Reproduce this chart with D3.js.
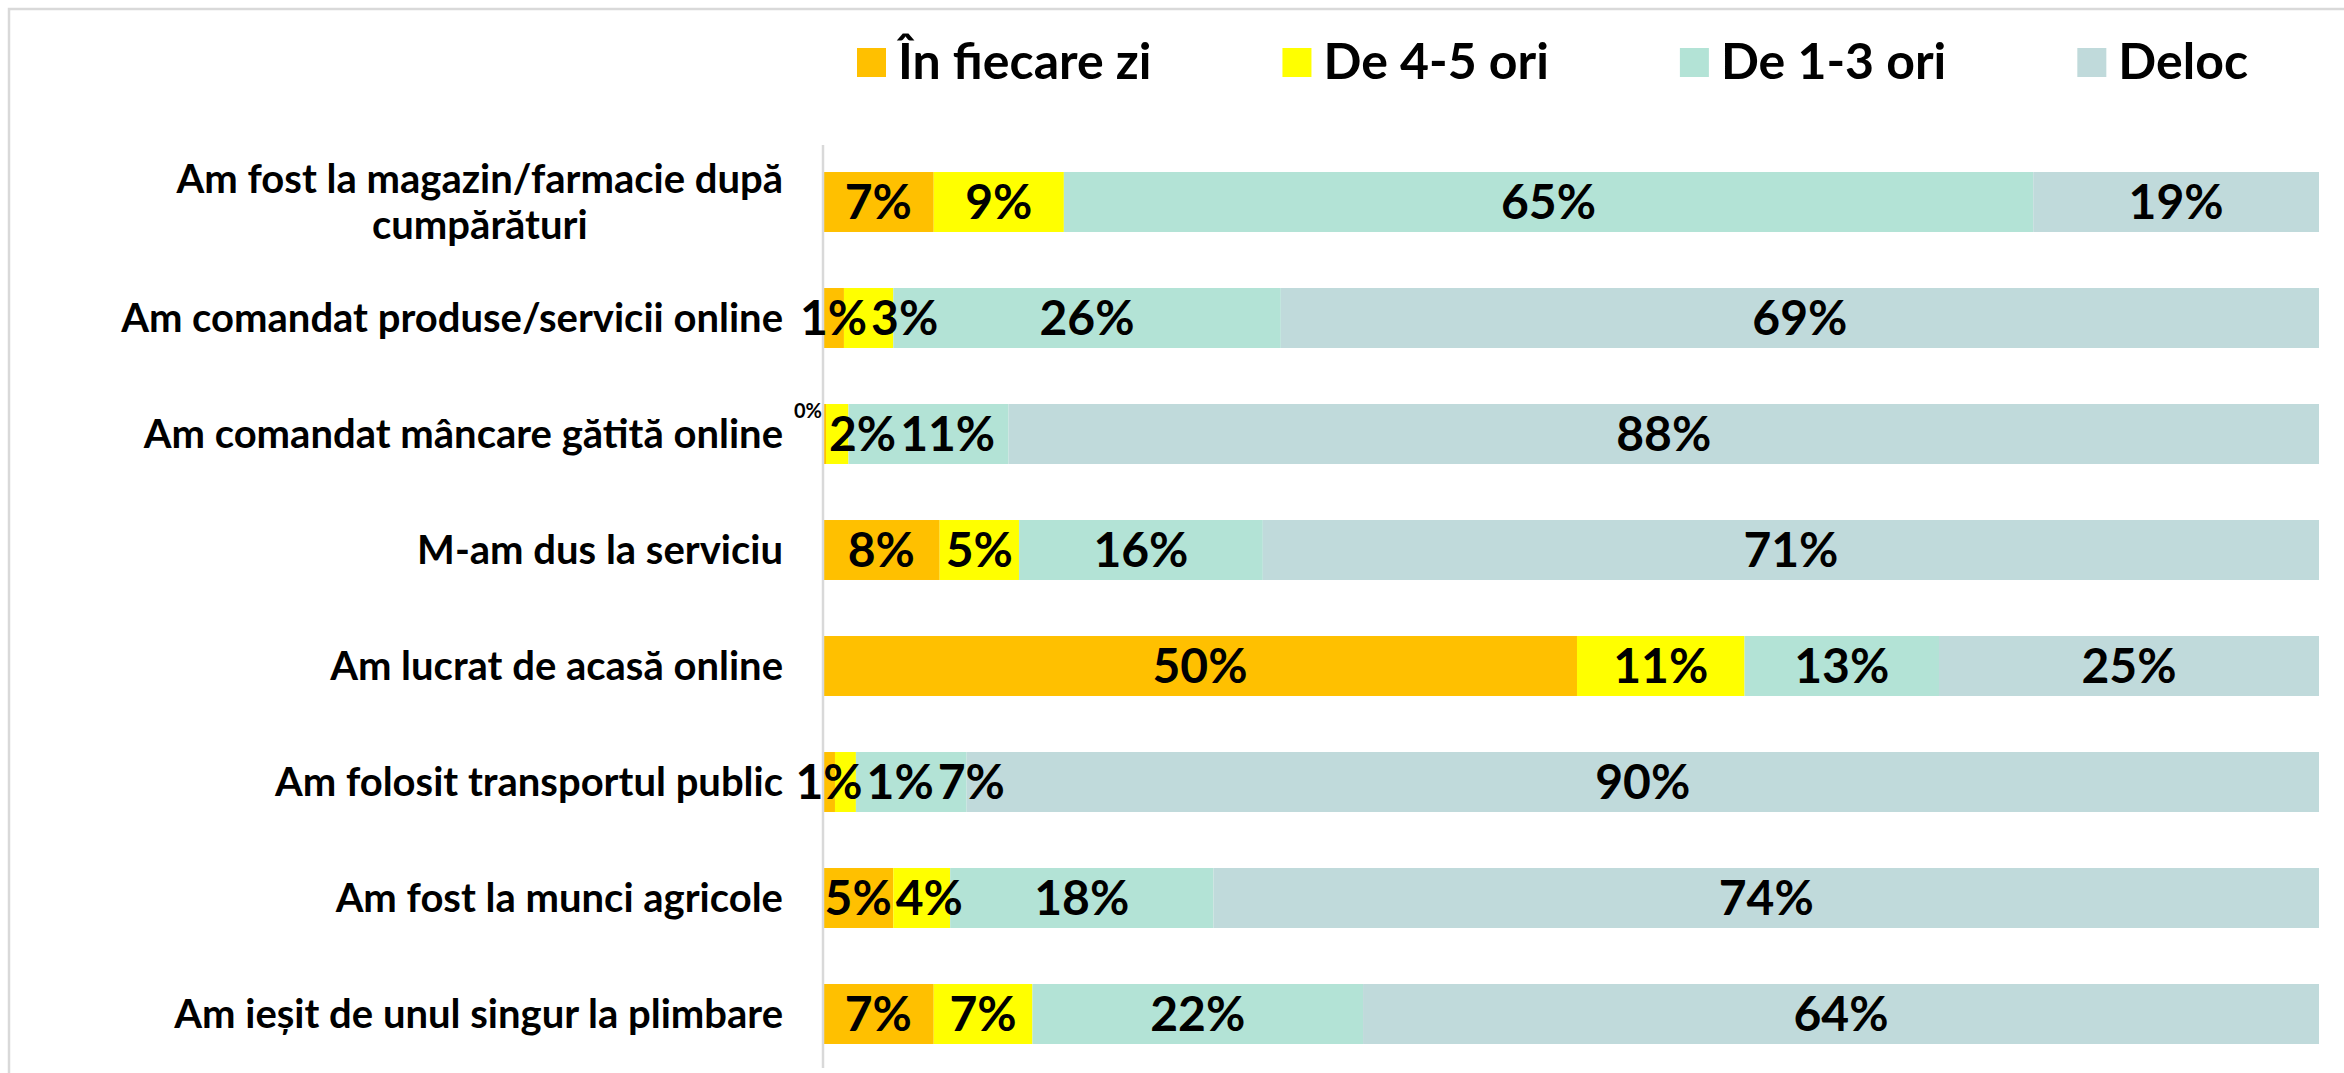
<!DOCTYPE html>
<html>
<head>
<meta charset="utf-8">
<script src="https://cdn.jsdelivr.net/npm/d3@7"></script>
<style>
  body { margin: 0; background: #fff; }
  text { font-family: Lato, "Open Sans", sans-serif; font-weight: 700; fill: #000; }
</style>
</head>
<body>
<div id="chart"></div>
<script>
const categories = [
  'Am fost la magazin/farmacie după cumpărături',
  'Am comandat produse/servicii online',
  'Am comandat mâncare gătită online',
  'M-am dus la serviciu',
  'Am lucrat de acasă online',
  'Am folosit transportul public',
  'Am fost la munci agricole',
  'Am ieșit de unul singur la plimbare'
];
const seriesNames = ['În fiecare zi', 'De 4-5 ori', 'De 1-3 ori', 'Deloc'];
const inFiecareZi = [7.4, 1.4, 0.2, 7.8, 50.4, 0.8, 4.7, 7.4];
const de45Ori = [8.7, 3.3, 1.5, 5.3, 11.2, 1.4, 3.8, 6.6];
const de13Ori = [64.8, 25.9, 10.7, 16.3, 13.0, 7.4, 17.6, 22.1];
const deloc = [19.1, 69.4, 87.6, 70.6, 25.4, 90.4, 73.9, 63.9];
const colors = ['#ffc000', '#ffff00', '#b3e3d6', '#c0dadb'];

const width = 2344;
const height = 1073;

const rows = categories.map((c, i) => ({
  cat: c,
  [seriesNames[0]]: inFiecareZi[i],
  [seriesNames[1]]: de45Ori[i],
  [seriesNames[2]]: de13Ori[i],
  [seriesNames[3]]: deloc[i]
}));
const stacked = d3.stack().keys(seriesNames)(rows);

const x = d3.scaleLinear().domain([0, 100]).range([823, 2319]);
const y = d3.scaleBand()
  .domain(categories)
  .range([144, 1072])
  .paddingInner(0.483)
  .paddingOuter(0.2415);
const color = d3.scaleOrdinal().domain(seriesNames).range(colors);

const svg = d3.select('#chart')
  .append('svg')
  .attr('width', width)
  .attr('height', height);

// chart frame
svg.append('rect')
  .attr('x', 9).attr('y', 9)
  .attr('width', width + 20).attr('height', height + 20)
  .style('fill', 'none')
  .style('stroke', '#d9d9d9')
  .style('stroke-width', 2.5);

// bars
const layers = svg.append('g').selectAll('g')
  .data(stacked)
  .join('g')
  .style('fill', d => color(d.key));

layers.selectAll('rect')
  .data(d => d)
  .join('rect')
  .attr('x', d => x(d[0]))
  .attr('y', d => y(d.data.cat))
  .attr('width', d => x(d[1]) - x(d[0]))
  .attr('height', y.bandwidth());

// vertical axis line
svg.append('line')
  .attr('x1', x(0)).attr('x2', x(0))
  .attr('y1', y.range()[0] + 1).attr('y2', 1068)
  .style('stroke', '#d9d9d9')
  .style('stroke-width', 2.5);

// data labels, pushed right when they would collide
const labels = svg.append('g');
categories.forEach((cat, i) => {
  let prevRight = -Infinity;
  const cy = y(cat) + y.bandwidth() / 2;
  stacked.forEach(layer => {
    const seg = layer[i];
    const v = seg[1] - seg[0];
    const txt = Math.round(v) + '%';
    if (Math.round(v) === 0) {
      // tiny share: small label tucked above the bar start
      labels.append('text')
        .attr('x', x(seg[0]) - 1)
        .attr('y', y(cat) + 14)
        .attr('text-anchor', 'end')
        .style('font-size', '20px')
        .text(txt);
      prevRight = x(seg[0]) + 2;
      return;
    }
    const t = labels.append('text')
      .attr('text-anchor', 'middle')
      .attr('y', cy)
      .attr('dy', '0.36em')
      .style('font-size', '48px')
      .text(txt);
    const w = t.node().getComputedTextLength();
    let cx = (x(seg[0]) + x(seg[1])) / 2;
    if (cx - w / 2 < prevRight + 4) cx = prevRight + 4 + w / 2;
    t.attr('x', cx);
    prevRight = cx + w / 2;
  });
});

// category labels
const labelRight = 783;
const maxLabel = 720;
const catG = svg.append('g').style('font-size', '40px');
categories.forEach(cat => {
  const words = cat.split(' ');
  const probe = catG.append('text');
  const lines = [];
  let line = [];
  words.forEach(wd => {
    line.push(wd);
    probe.text(line.join(' '));
    if (probe.node().getComputedTextLength() > maxLabel && line.length > 1) {
      line.pop();
      lines.push(line.join(' '));
      line = [wd];
    }
  });
  lines.push(line.join(' '));
  const widths = lines.map(l => { probe.text(l); return probe.node().getComputedTextLength(); });
  probe.remove();
  const blockW = d3.max(widths);
  const lh = 46;
  const cy = y(cat) + y.bandwidth() / 2;
  const t = catG.append('text')
    .attr('text-anchor', lines.length > 1 ? 'middle' : 'end');
  lines.forEach((l, k) => {
    t.append('tspan')
      .attr('x', lines.length > 1 ? labelRight - blockW / 2 : labelRight)
      .attr('y', cy + (k - (lines.length - 1) / 2) * lh)
      .attr('dy', '0.36em')
      .text(l);
  });
});

// legend
const legend = svg.append('g');
let lx = 857;
seriesNames.forEach(name => {
  legend.append('rect')
    .attr('x', lx).attr('y', 48)
    .attr('width', 29).attr('height', 29)
    .style('fill', color(name));
  const t = legend.append('text')
    .attr('x', lx + 41)
    .attr('y', 79)
    .style('font-size', '50px')
    .text(name);
  lx += 41 + t.node().getComputedTextLength() + 131;
});
</script>
</body>
</html>
